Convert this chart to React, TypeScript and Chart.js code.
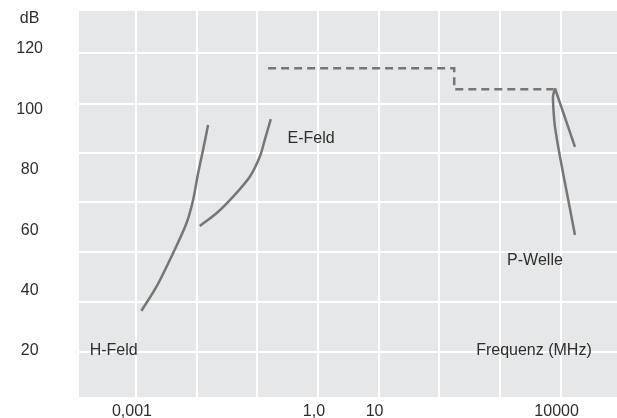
import React, { useEffect, useRef } from "react";
import { Chart, registerables } from "chart.js";

Chart.register(...registerables);

// ---- data (frequency in MHz, level in dB) ----
const hFeldFreq = [0.00123, 0.00218, 0.00409, 0.00681, 0.00875, 0.01057, 0.0128, 0.01545];
const hFeldDb = [33.3, 41.3, 52.4, 62.3, 70.0, 78.8, 86.6, 94.8];

const eFeldFreq = [0.01127, 0.0213, 0.04, 0.0753, 0.11, 0.133, 0.167];
const eFeldDb = [61.4, 65.6, 71.1, 77.7, 84.3, 89.9, 96.8];

const limitFreq = [0.151, 176.5, 176.5, 7575];
const limitDb = [113.6, 113.6, 106.7, 106.7];

const pWelleLeftFreq = [8075, 7500, 7638, 8075, 9775, 13390, 17260];
const pWelleLeftDb = [107.0, 104.3, 99.8, 94.3, 84.3, 70.0, 58.4];

const pWelleRightFreq = [8075, 17260];
const pWelleRightDb = [107.0, 87.6];

const annotationTexts = ["H-Feld", "E-Feld", "P-Welle", "Frequenz (MHz)"];
const annotationFreq = [0.00043, 0.773, 3784, 3641];
const annotationDb = [20.1, 90.2, 50.1, 20.1];

const xGridValues = [0.001, 0.01, 0.1, 1, 10, 100, 1000, 10000];
const xGridLabels = ["0,001", "", "", "1,0", "10", "", "", "10000"];

const yTickValues = [20, 40, 60, 80, 100, 120, 130];
const yTickLabels = ["20", "40", "60", "80", "100", "120", "dB"];

const yGridValues = [19.8, 36.3, 52.7, 69.2, 85.5, 101.7, 118.6];

const X_MIN = 1.152e-4;
const X_MAX = 85110;
const Y_MIN = 4.77;
const Y_MAX = 132.58;

const LINE = "#767676";
const TEXT = "#2e2e2e";
const FONT_FAMILY = '"Liberation Sans", Arial, sans-serif';

const toPoints = (xs: number[], ys: number[]) => xs.map((x, i) => ({ x, y: ys[i] }));

const bgPlugin = {
  id: "plotBg",
  beforeDraw(chart: any) {
    const { ctx, chartArea } = chart;
    ctx.save();
    ctx.fillStyle = "#ffffff";
    ctx.fillRect(0, 0, chart.width, chart.height);
    ctx.fillStyle = "#e6e7e8";
    ctx.fillRect(chartArea.left, chartArea.top, chartArea.right - chartArea.left, chartArea.bottom - chartArea.top);
    ctx.restore();
  },
};

const textPlugin = {
  id: "annotTexts",
  afterDatasetsDraw(chart: any) {
    const { ctx } = chart;
    const xs = chart.scales.x;
    const ys = chart.scales.y;
    ctx.save();
    ctx.font = `16px ${FONT_FAMILY}`;
    ctx.fillStyle = TEXT;
    ctx.textAlign = "center";
    ctx.textBaseline = "middle";
    annotationTexts.forEach((t, i) => {
      ctx.fillText(t, xs.getPixelForValue(annotationFreq[i]), ys.getPixelForValue(annotationDb[i]));
    });
    ctx.restore();
  },
};

export default function App() {
  const ref = useRef<HTMLCanvasElement | null>(null);

  useEffect(() => {
    document.body.style.margin = "0";
    if (!ref.current) return;
    const line = (xs: number[], ys: number[], extra: any = {}) => ({
      data: toPoints(xs, ys),
      borderColor: LINE,
      borderWidth: 2.5,
      pointRadius: 0,
      fill: false,
      tension: 0.3,
      ...extra,
    });
    const chart = new Chart(ref.current, {
      type: "line",
      data: {
        datasets: [
          line(hFeldFreq, hFeldDb),
          line(eFeldFreq, eFeldDb),
          line(limitFreq, limitDb, { tension: 0, borderDash: [8, 5] }),
          line(pWelleLeftFreq, pWelleLeftDb, { tension: 0.15 }),
          line(pWelleRightFreq, pWelleRightDb, { tension: 0 }),
        ],
      },
      options: {
        responsive: true,
        maintainAspectRatio: false,
        animation: false,
        devicePixelRatio: 1,
        layout: { padding: { top: 11, left: 0, right: 0, bottom: 0 } },
        plugins: { legend: { display: false }, tooltip: { enabled: false } },
        scales: {
          x: {
            type: "logarithmic",
            position: "bottom",
            min: X_MIN,
            max: X_MAX,
            afterBuildTicks: (s: any) => {
              s.ticks = xGridValues.map((v) => ({ value: v }));
            },
            afterFit: (s: any) => {
              s.height = 21;
            },
            ticks: {
              autoSkip: false,
              maxRotation: 0,
              minRotation: 0,
              padding: 5,
              labelOffset: -4,
              color: TEXT,
              font: { family: FONT_FAMILY, size: 16 },
              callback: (_v: any, i: number) => xGridLabels[i],
            },
            grid: { color: "#ffffff", lineWidth: 2, drawTicks: false },
            border: { display: false },
          },
          y: {
            type: "linear",
            position: "left",
            weight: 2,
            min: Y_MIN,
            max: Y_MAX,
            afterBuildTicks: (s: any) => {
              s.ticks = yTickValues.map((v) => ({ value: v }));
            },
            afterFit: (s: any) => {
              s.width = 43;
            },
            ticks: {
              autoSkip: false,
              padding: 0,
              crossAlign: "center",
              color: TEXT,
              font: { family: FONT_FAMILY, size: 16 },
              callback: (_v: any, i: number) => yTickLabels[i],
            },
            grid: { display: false, drawTicks: false },
            border: { display: false },
          },
          yGrid: {
            type: "linear",
            position: "left",
            weight: 0,
            min: Y_MIN,
            max: Y_MAX,
            afterBuildTicks: (s: any) => {
              s.ticks = yGridValues.map((v) => ({ value: v }));
            },
            afterFit: (s: any) => {
              s.width = 36;
            },
            ticks: { display: false, padding: 0 },
            grid: { color: "#ffffff", lineWidth: 2, drawTicks: false },
            border: { display: false },
          },
        },
      } as any,
      plugins: [bgPlugin, textPlugin],
    });
    return () => chart.destroy();
  }, []);

  return (
    <div style={{ position: "absolute", left: 0, top: 0, width: 617, height: 418 }}>
      <canvas ref={ref} />
    </div>
  );
}
